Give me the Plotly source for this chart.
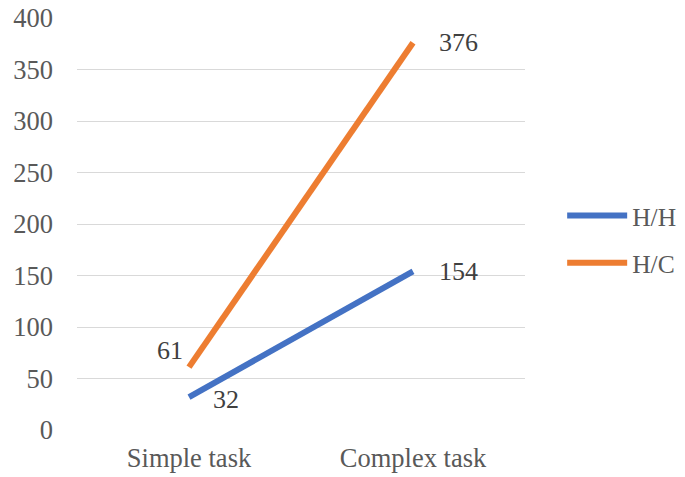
import plotly.graph_objects as go

categories = ["Simple task", "Complex task"]
hh_values = [32, 154]
hc_values = [61, 376]
y_ticks = [0, 50, 100, 150, 200, 250, 300, 350, 400]

BLUE = "#4472C4"
ORANGE = "#ED7D31"
FONT = "Liberation Serif"
TXT = "#595959"
LBL = "#404040"

fig = go.Figure()
fig.add_trace(go.Scatter(x=categories, y=hh_values, mode="lines", name="H/H",
                         legendgroup="a", line=dict(color=BLUE, width=6)))
fig.add_trace(go.Scatter(x=categories, y=hc_values, mode="lines", name="H/C",
                         legendgroup="b", line=dict(color=ORANGE, width=6)))

# data labels
label_specs = [
    (categories[0], hh_values[0], "left", 22, -2),
    (categories[1], hh_values[1], "left", 24, 0),
    (categories[0], hc_values[0], "right", -4, 17),
    (categories[1], hc_values[1], "left", 24, 0),
]
for x, y, anchor, xs, ys in label_specs:
    fig.add_annotation(x=x, y=y, text=str(y), showarrow=False, xanchor=anchor,
                       yanchor="middle", xshift=xs, yshift=ys,
                       font=dict(family=FONT, size=26, color=LBL))

fig.update_layout(
    width=685, height=477,
    margin=dict(l=69, r=168, t=10, b=55, autoexpand=False),
    paper_bgcolor="white", plot_bgcolor="white",
    font=dict(family=FONT, size=26, color=TXT),
    showlegend=True,
    legend=dict(xref="container", yref="container", x=0.809, y=0.5147,
                xanchor="left", yanchor="middle",
                font=dict(family=FONT, size=25.5, color=TXT),
                itemwidth=60, tracegroupgap=11, bgcolor="rgba(0,0,0,0)"),
    xaxis=dict(range=[-0.5, 1.5], showgrid=False, zeroline=False,
               showline=False, ticks="", ticklabelstandoff=9, automargin=False,
               tickfont=dict(size=26.5, color=TXT)),
    yaxis=dict(range=[0, 400], tickvals=y_ticks, showgrid=True,
               gridcolor="#D9D9D9", gridwidth=1.3, zeroline=False,
               showline=False, ticks="", ticklabelstandoff=23, automargin=False,
               ticklabeloverflow="allow",
               tickfont=dict(size=26.5, color=TXT)),
)

fig.write_html("out.html")
